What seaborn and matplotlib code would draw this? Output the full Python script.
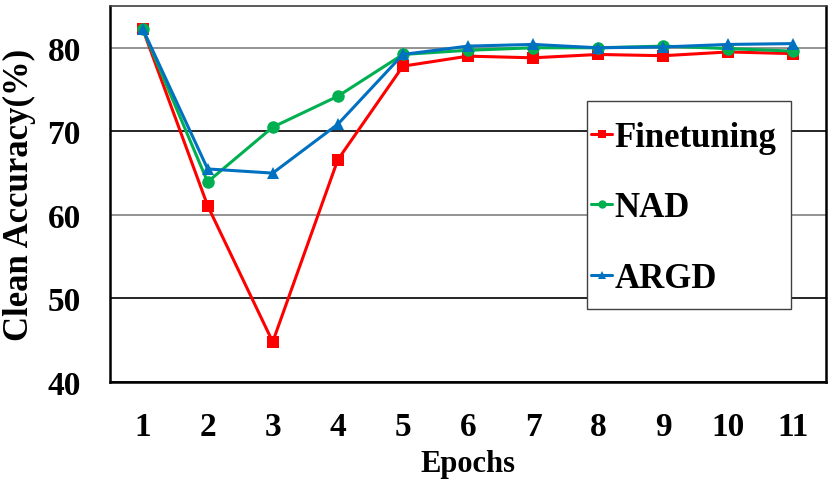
import numpy as np
import pandas as pd
import matplotlib
matplotlib.use("Agg")
import matplotlib.pyplot as plt
from matplotlib.patches import Rectangle
import seaborn as sns

epochs = [1, 2, 3, 4, 5, 6, 7, 8, 9, 10, 11]
finetuning = [82.3, 61.1, 44.8, 66.6, 77.8, 79.0, 78.8, 79.2, 79.05, 79.5, 79.3]
nad = [82.3, 63.95, 70.5, 74.2, 79.2, 79.7, 80.0, 80.0, 80.2, 79.9, 79.6]
argd = [82.3, 65.5, 65.0, 70.85, 79.2, 80.2, 80.4, 80.0, 80.1, 80.4, 80.5]
series_names = ["Finetuning", "NAD", "ARGD"]
colors = {"Finetuning": "#FF0000", "NAD": "#00B050", "ARGD": "#0070C0"}
markers = {"Finetuning": "s", "NAD": "o", "ARGD": "^"}
yticks = [40, 50, 60, 70, 80]

df = pd.DataFrame({
    "Epochs": epochs * 3,
    "Accuracy": finetuning + nad + argd,
    "Method": sum([[n] * len(epochs) for n in series_names], []),
})

sns.set_style("white")
plt.rcParams["font.family"] = ["Liberation Serif", "DejaVu Serif"]
plt.rcParams["font.weight"] = "bold"
plt.rcParams["text.color"] = "black"
plt.rcParams["axes.labelcolor"] = "black"
plt.rcParams["xtick.color"] = "black"
plt.rcParams["ytick.color"] = "black"

fig = plt.figure(figsize=(8.31, 4.81), dpi=100)
ax = fig.add_axes([110 / 831, 1 - 383 / 481, 716 / 831, 376 / 481])

sns.lineplot(data=df, x="Epochs", y="Accuracy", hue="Method", style="Method",
             hue_order=series_names, style_order=series_names,
             palette=colors, markers=markers, dashes=False,
             linewidth=2.2, markersize=9, markeredgewidth=0, ax=ax)

ax.set_xlim(0.5, 11.5)
ax.set_ylim(40, 85)
ax.set_xticks(epochs)
ax.set_xticklabels([str(e) for e in epochs])
ax.set_yticks(yticks)
ax.tick_params(axis="both", length=0, labelsize=24, labelcolor="black")
ax.tick_params(axis="x", pad=21)
ax.tick_params(axis="y", pad=21)
for lab in ax.get_xticklabels() + ax.get_yticklabels():
    lab.set_fontweight("bold")

ax.yaxis.grid(True)
for val, gl in zip(ax.get_yticks(), ax.yaxis.get_gridlines()):
    gl.set_color("#808080" if int(val) in (60, 80) else "black")
    gl.set_linewidth(1.2)
ax.set_axisbelow(True)

for sp in ax.spines.values():
    sp.set_color("black")
    sp.set_linewidth(1.8)
ax.spines["top"].set_color("#404040")
ax.spines["top"].set_linewidth(1.2)

ax.set_xlabel("Epochs", fontsize=22, fontweight="bold", labelpad=5, color="black")
ax.set_ylabel("Clean Accuracy(%)", fontsize=25, fontweight="bold", labelpad=8, color="black")

# legend frame box
frame = Rectangle((0.666, 0.194), 0.285, 0.553, transform=ax.transAxes,
                  facecolor="white", edgecolor="#404040", linewidth=1.0, zorder=5)
ax.add_patch(frame)

handles, labels = ax.get_legend_handles_labels()
for h in handles:
    h.set_markersize(6)
    h.set_linewidth(2.2)
leg = ax.legend(handles, labels, loc="upper left",
                bbox_to_anchor=(0.672, 0.695),
                frameon=False,
                prop={"family": "Liberation Serif", "weight": "bold", "size": 25},
                handlelength=0.6, handletextpad=0.08, labelspacing=1.08,
                borderpad=0, borderaxespad=0, labelcolor="black")
leg.set_zorder(6)

fig.savefig("out.png", dpi=100)
